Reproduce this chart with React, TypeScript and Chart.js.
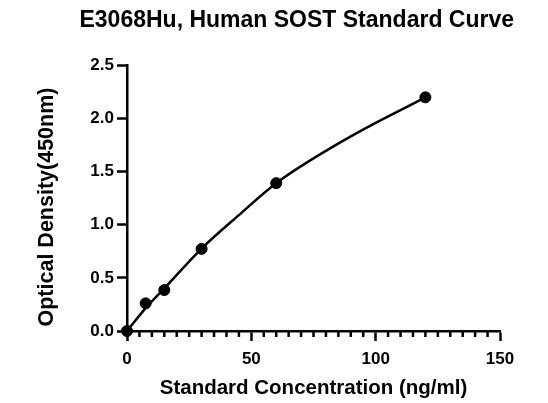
import React, { useEffect, useRef } from "react";
import { Chart, registerables } from "chart.js";

Chart.register(...registerables);

// Standard points
const concentrations = [0, 7.5, 15, 30, 60, 120];
const odValues = [0.0, 0.26, 0.385, 0.772, 1.39, 2.197];

// Fitted curve
const curveX = [0, 7.5, 15, 30, 45, 60, 90, 120];
const curveY = [0, 0.215, 0.4, 0.775, 1.09, 1.39, 1.83, 2.197];

const xMin = 0;
const xMax = 150;
const xStep = 50;
const xMinorStep = 5;
const yMin = 0;
const yMax = 2.5;
const yStep = 0.5;

const chartTitle = "E3068Hu, Human SOST Standard Curve";
const xTitle = "Standard Concentration (ng/ml)";
const yTitle = "Optical Density(450nm)";

const FONT = "'Liberation Sans', Arial, Helvetica, sans-serif";
const PAD_LEFT = 45.5;

const minorTicksPlugin = {
  id: "minorTicks",
  afterDraw(chart: any) {
    const scale = chart.scales.x;
    const ctx = chart.ctx;
    ctx.save();
    ctx.strokeStyle = "#000";
    ctx.lineWidth = 2.5;
    const y0 = scale.top;
    for (let v = xMin; v <= xMax + 1e-9; v += xMinorStep) {
      if (Math.abs(v % xStep) < 1e-9) continue;
      const px = scale.getPixelForValue(v);
      ctx.beginPath();
      ctx.moveTo(px, y0);
      ctx.lineTo(px, y0 + 6);
      ctx.stroke();
    }
    ctx.restore();
  },
};

export default function App() {
  const ref = useRef<HTMLCanvasElement | null>(null);

  useEffect(() => {
    if (!ref.current) return;
    const chart = new Chart(ref.current, {
      type: "line",
      data: {
        datasets: [
          {
            label: "fit",
            data: curveX.map((x, i) => ({ x, y: curveY[i] })),
            borderColor: "#000",
            borderWidth: 2.5,
            pointRadius: 0,
            cubicInterpolationMode: "monotone",
            clip: false,
          } as any,
          {
            label: "standards",
            data: concentrations.map((x, i) => ({ x, y: odValues[i] })),
            showLine: false,
            pointRadius: 5.5,
            pointBackgroundColor: "#000",
            pointBorderColor: "#000",
            clip: false,
          } as any,
        ],
      },
      options: {
        animation: false,
        responsive: false,
        layout: { padding: { left: PAD_LEFT, right: 0, top: 0, bottom: 0 } },
        plugins: {
          legend: { display: false },
          tooltip: { enabled: false },
          title: {
            display: true,
            text: chartTitle,
            fullSize: true,
            color: "#000",
            font: { family: FONT, size: 23, weight: "bold" },
            padding: { top: 7, bottom: 30.5 },
          } as any,
        },
        scales: {
          x: {
            type: "linear",
            min: xMin,
            max: xMax,
            afterFit(scale: any) {
              scale.height = 72;
            },
            ticks: {
              stepSize: xStep,
              color: "#000",
              padding: 8,
              maxRotation: 0,
              font: { family: FONT, size: 17, weight: "bold" },
            },
            grid: {
              display: true,
              drawOnChartArea: false,
              drawTicks: true,
              tickLength: 10,
              tickWidth: 2.5,
              tickColor: "#000",
            },
            border: { display: true, color: "#000", width: 2.5 },
            title: {
              display: true,
              text: xTitle,
              color: "#000",
              font: { family: FONT, size: 20.5, weight: "bold" },
              padding: { top: 0, bottom: 2.5 },
            },
          },
          y: {
            type: "linear",
            min: yMin,
            max: yMax,
            afterFit(scale: any) {
              scale.width = 127 - PAD_LEFT;
            },
            ticks: {
              stepSize: yStep,
              color: "#000",
              padding: 3,
              font: { family: FONT, size: 17, weight: "bold" },
              callback: (v: any) => Number(v).toFixed(1),
            },
            grid: {
              display: true,
              drawOnChartArea: false,
              drawTicks: true,
              tickLength: 10,
              tickWidth: 2.5,
              tickColor: "#000",
            },
            border: { display: true, color: "#000", width: 2.5 },
            title: {
              display: true,
              text: yTitle + "   ",
              color: "#000",
              font: { family: FONT, size: 21.5, weight: "bold" },
              padding: { top: 34 - PAD_LEFT, bottom: 0 },
            },
          },
          yRight: {
            type: "linear",
            position: "right",
            display: true,
            afterFit(scale: any) {
              scale.width = 48;
            },
            ticks: { display: false },
            grid: { display: false, drawTicks: false },
            border: { display: false },
            title: { display: false },
          },
        },
      },
      plugins: [minorTicksPlugin],
    });
    return () => chart.destroy();
  }, []);

  return (
    <div
      style={{
        position: "absolute",
        left: 0,
        top: 0,
        width: 548,
        height: 403,
        background: "#fff",
      }}
    >
      <canvas ref={ref} width={548} height={403} />
    </div>
  );
}
